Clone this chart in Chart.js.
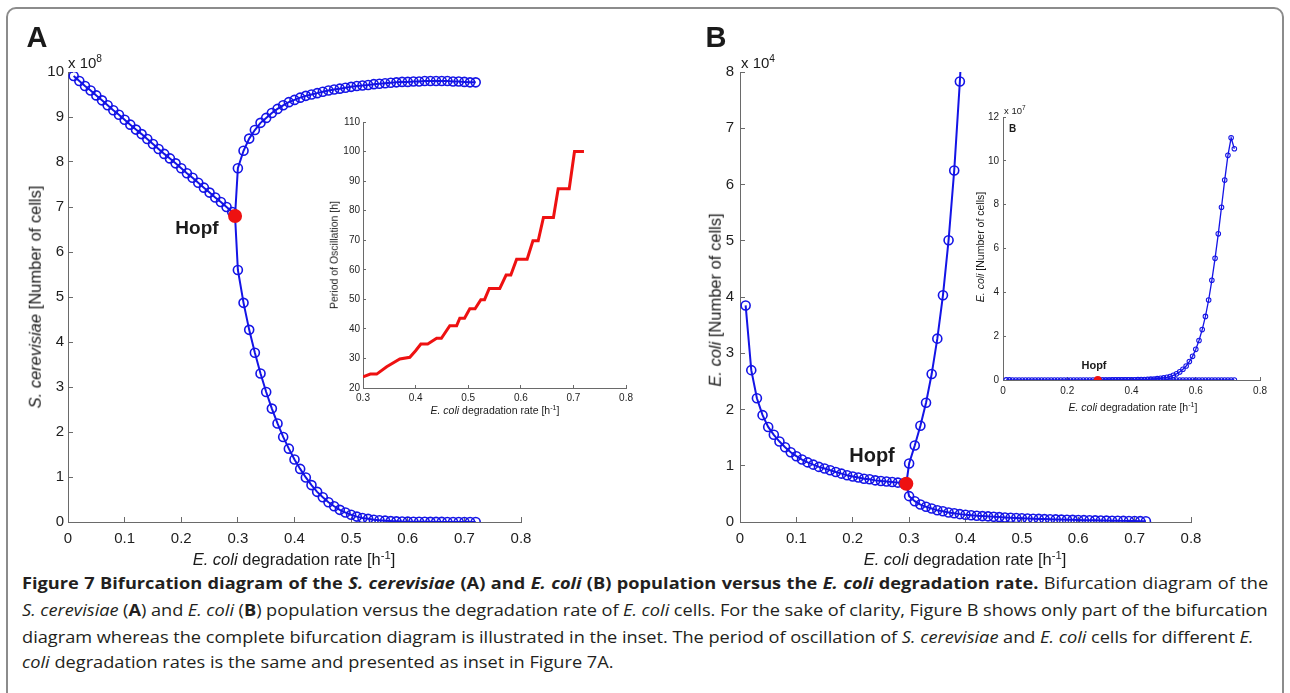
<!DOCTYPE html>
<html>
<head>
<meta charset="utf-8">
<title>Figure 7 - bifurcation diagram</title>
<script src="https://cdn.jsdelivr.net/npm/chart.js@4.4.1/dist/chart.umd.min.js"></script>
<style>
  html, body { margin: 0; padding: 0; background: #fff; overflow: hidden; }
  #fig { position: relative; width: 1290px; height: 693px; overflow: hidden;
         font-family: "Liberation Sans", Arial, sans-serif; color: #1a1a1a; }
  #frame { position: absolute; left: 6px; top: 7px; width: 1278px; height: 720px;
           border: 2px solid #8c8c8c; border-radius: 10px; box-sizing: border-box; }
  canvas { position: absolute; }
  .t { position: absolute; white-space: nowrap; transform: translate(-50%, -50%); line-height: 1; }
  .rot { transform: translate(-50%, -50%) rotate(-90deg); }
  .l { position: absolute; white-space: nowrap; line-height: 1; transform: translateY(-50%); }
  .sup { font-size: 0.68em; position: relative; top: -0.55em; }
  .cap { position: absolute; left: 22px; white-space: nowrap; font-family: "Open Sans", sans-serif;
         font-size: 16.5px; line-height: 20px; transform-origin: 0 50%; color: #231f20; }
</style>
</head>
<body>
<div id="fig">
  <div id="frame"></div>

  <canvas id="chartA" width="540" height="500" style="left:10px;top:50px"></canvas>
  <canvas id="chartAin" width="310" height="300" style="left:330px;top:110px"></canvas>
  <canvas id="chartB" width="530" height="500" style="left:690px;top:50px"></canvas>
  <canvas id="chartBin" width="305" height="300" style="left:970px;top:100px"></canvas>

  <div class="t" style="left:37px;top:37px;font-size:29px;font-weight:bold">A</div>
  <div class="t" style="left:716px;top:37px;font-size:29px;font-weight:bold">B</div>

  <div class="l" style="left:68px;top:63px;font-size:15px">x 10<span class="sup">8</span></div>
  <div class="l" style="left:741px;top:63px;font-size:15px">x 10<span class="sup">4</span></div>
  <div class="l" style="left:1004px;top:111px;font-size:9.5px">x 10<span class="sup">7</span></div>
  <div class="l" style="left:1009px;top:129px;font-size:10px;font-weight:bold">B</div>

  <div class="t" style="left:197px;top:227px;font-size:19px;font-weight:bold">Hopf</div>
  <div class="t" style="left:872px;top:455px;font-size:20px;font-weight:bold">Hopf</div>
  <div class="t" style="left:1094px;top:365px;font-size:11px;font-weight:bold">Hopf</div>

  <div class="t" style="left:294px;top:559px;font-size:16.5px"><i>E. coli</i> degradation rate [h<span class="sup">-1</span>]</div>
  <div class="t" style="left:965px;top:559px;font-size:16.5px"><i>E. coli</i> degradation rate [h<span class="sup">-1</span>]</div>
  <div class="t rot" style="left:35px;top:297px;font-size:16.5px"><i>S. cerevisiae</i> [Number of cells]</div>
  <div class="t rot" style="left:715px;top:300px;font-size:16.5px"><i>E. coli</i> [Number of cells]</div>

  <div class="t" style="left:495px;top:411px;font-size:10.5px"><i>E. coli</i> degradation rate [h<span class="sup">-1</span>]</div>
  <div class="t rot" style="left:334px;top:255px;font-size:10.5px">Period of Oscillation [h]</div>
  <div class="t" style="left:1133px;top:408px;font-size:10.5px"><i>E. coli</i> degradation rate [h<span class="sup">-1</span>]</div>
  <div class="t rot" style="left:980px;top:247px;font-size:10.5px"><i>E. coli</i> [Number of cells]</div>

  <div class="cap" data-w="1246" style="top:573px"><b>Figure 7 Bifurcation diagram of the <i>S. cerevisiae</i> (A) and <i>E. coli</i> (B) population versus the <i>E. coli</i> degradation rate.</b> Bifurcation diagram of the</div>
  <div class="cap" data-w="1246" style="top:600px"><i>S. cerevisiae</i> (<b>A</b>) and <i>E. coli</i> (<b>B</b>) population versus the degradation rate of <i>E. coli</i> cells. For the sake of clarity, Figure B shows only part of the bifurcation</div>
  <div class="cap" data-w="1232" style="top:627px">diagram whereas the complete bifurcation diagram is illustrated in the inset. The period of oscillation of <i>S. cerevisiae</i> and <i>E. coli</i> cells for different <i>E.</i></div>
  <div class="cap" id="capLast" data-w="591" style="top:652px"><i>coli</i> degradation rates is the same and presented as inset in Figure 7A.</div>
</div>

<script>
// degradation rate grid [1/h]
var rateLeft = [0.01, 0.02, 0.03, 0.04, 0.05, 0.06, 0.07, 0.08, 0.09, 0.10,
                0.11, 0.12, 0.13, 0.14, 0.15, 0.16, 0.17, 0.18, 0.19, 0.20,
                0.21, 0.22, 0.23, 0.24, 0.25, 0.26, 0.27, 0.28, 0.29];
var rateRight = [0.30, 0.31, 0.32, 0.33, 0.34, 0.35, 0.36, 0.37, 0.38, 0.39,
                 0.40, 0.41, 0.42, 0.43, 0.44, 0.45, 0.46, 0.47, 0.48, 0.49,
                 0.50, 0.51, 0.52, 0.53, 0.54, 0.55, 0.56, 0.57, 0.58, 0.59,
                 0.60, 0.61, 0.62, 0.63, 0.64, 0.65, 0.66, 0.67, 0.68, 0.69,
                 0.70, 0.71, 0.72];

// panel A: S. cerevisiae (x 10^8)
var aStable = [9.91, 9.80, 9.69, 9.59, 9.48, 9.37, 9.26, 9.15, 9.05, 8.94,
               8.83, 8.72, 8.62, 8.51, 8.40, 8.29, 8.18, 8.08, 7.97, 7.86,
               7.75, 7.65, 7.54, 7.43, 7.32, 7.21, 7.11, 7.00, 6.89];
var aUpper = [7.86, 8.25, 8.52, 8.71, 8.87, 8.98, 9.09, 9.18, 9.26, 9.33,
              9.38, 9.43, 9.47, 9.50, 9.53, 9.56, 9.59, 9.61, 9.63, 9.65,
              9.67, 9.69, 9.70, 9.71, 9.73, 9.74, 9.75, 9.76, 9.77, 9.78,
              9.78, 9.79, 9.79, 9.80, 9.80, 9.80, 9.80, 9.80, 9.79, 9.79,
              9.78, 9.77, 9.77];
var aLower = [5.60, 4.87, 4.27, 3.76, 3.30, 2.89, 2.52, 2.19, 1.89, 1.63,
              1.39, 1.18, 0.99, 0.82, 0.67, 0.55, 0.44, 0.35, 0.27, 0.21,
              0.16, 0.12, 0.09, 0.07, 0.05, 0.04, 0.03, 0.02, 0.015, 0.01,
              0.008, 0.006, 0.005, 0.004, 0.003, 0.002, 0.002, 0.001, 0.001, 0.001,
              0.001, 0.001, 0.001];
var hopfA = { x: 0.295, y: 6.8 };

// inset A: period of oscillation [h]
var periodRate = [0.300, 0.314, 0.326, 0.345, 0.370, 0.389, 0.400, 0.410, 0.423, 0.440,
                  0.449, 0.465, 0.478, 0.484, 0.493, 0.503, 0.513, 0.524, 0.531, 0.540,
                  0.560, 0.572, 0.581, 0.592, 0.612, 0.623, 0.633, 0.643, 0.662, 0.671,
                  0.692, 0.702, 0.720];
var periodHours = [23.8, 24.7, 24.7, 27.2, 29.8, 30.4, 32.6, 34.9, 34.9, 36.8,
                   36.8, 41.1, 41.1, 43.6, 43.6, 46.8, 46.8, 49.9, 49.9, 53.7,
                   53.7, 58.2, 58.2, 63.6, 63.6, 69.8, 69.8, 77.7, 77.7, 87.4,
                   87.4, 100, 100];

// panel B: E. coli (x 10^4)
var bLeft = [3.85, 2.70, 2.20, 1.90, 1.69, 1.55, 1.43, 1.33, 1.24, 1.17,
             1.11, 1.06, 1.02, 0.98, 0.95, 0.92, 0.89, 0.86, 0.83, 0.81,
             0.79, 0.77, 0.76, 0.74, 0.73, 0.72, 0.71, 0.70, 0.69];
var bUpper = [1.04, 1.36, 1.71, 2.12, 2.63, 3.26, 4.03, 5.01, 6.25, 7.83, 9.80];
var bLower = [0.46, 0.37, 0.31, 0.27, 0.24, 0.21, 0.19, 0.17, 0.155, 0.14,
              0.13, 0.12, 0.11, 0.105, 0.10, 0.093, 0.087, 0.081, 0.076, 0.071,
              0.067, 0.063, 0.059, 0.055, 0.052, 0.049, 0.046, 0.043, 0.040, 0.038,
              0.035, 0.033, 0.031, 0.029, 0.027, 0.025, 0.023, 0.021, 0.020, 0.018,
              0.017, 0.015, 0.014];
var hopfB = { x: 0.295, y: 0.68 };

// inset B: full upper branch (x 10^7)
var insetUpper = [0.001, 0.0014, 0.0017, 0.0021, 0.0026, 0.0033, 0.004, 0.005, 0.0063, 0.0078,
                  0.0098, 0.012, 0.015, 0.019, 0.024, 0.03, 0.038, 0.048, 0.06, 0.075,
                  0.095, 0.12, 0.16, 0.21, 0.28, 0.37, 0.49, 0.64, 0.84, 1.08,
                  1.40, 1.80, 2.30, 2.90, 3.65, 4.55, 5.55, 6.67, 7.88, 9.12,
                  10.25, 11.05, 10.55];
var hopfInset = { x: 0.295, y: 0 };

// tick labels
var mainXTicks = [0, 0.1, 0.2, 0.3, 0.4, 0.5, 0.6, 0.7, 0.8];
var aYTicks = [0, 1, 2, 3, 4, 5, 6, 7, 8, 9, 10];
var bYTicks = [0, 1, 2, 3, 4, 5, 6, 7, 8];
var periodXTicks = [0.3, 0.4, 0.5, 0.6, 0.7, 0.8];
var periodYTicks = [20, 30, 40, 50, 60, 70, 80, 90, 100, 110];
var insetXTicks = [0, 0.2, 0.4, 0.6, 0.8];
var insetYTicks = [0, 2, 4, 6, 8, 10, 12];

var blue = '#1414e6';
var red = '#ee1111';
var axisColor = '#6a6a6a';

Chart.defaults.font.family = '"Liberation Sans", Arial, sans-serif';

function pts(xs, ys, k) {
  k = k || 1;
  return xs.map(function(x, i) { return { x: x, y: ys[i] * k }; });
}

function axis(min, max, ticks, isX, size, fontSize, tl, pad) {
  return {
    type: 'linear', min: min, max: max,
    afterBuildTicks: function(s) { s.ticks = ticks.map(function(v) { return { value: v }; }); },
    afterFit: function(s) { if (isX) s.height = size; else s.width = size; },
    grid: { display: true, drawOnChartArea: false, drawTicks: true, tickLength: -tl, color: axisColor },
    border: { display: true, color: axisColor, width: 1 },
    ticks: {
      padding: pad, color: '#1e1e1e', font: { size: fontSize },
      maxRotation: 0, autoSkip: false,
      callback: function(v) { return String(Number(v.toFixed(2))); }
    }
  };
}

function branch(data, r, bw) {
  return {
    data: data, showLine: true, borderColor: blue, borderWidth: bw,
    pointRadius: r, pointBorderWidth: bw * 0.8, pointBorderColor: blue,
    pointBackgroundColor: 'rgba(0,0,0,0)', tension: 0
  };
}

function hopf(p, r) {
  return { data: [p], pointRadius: r, pointBackgroundColor: red, pointBorderColor: red, pointBorderWidth: 0 };
}

function draw(id, datasets, pad, scales) {
  return new Chart(document.getElementById(id), {
    type: 'scatter',
    data: { datasets: datasets },
    options: {
      responsive: false, animation: false, events: [], devicePixelRatio: 1,
      layout: { padding: pad },
      plugins: { legend: { display: false }, tooltip: { enabled: false } },
      scales: scales
    }
  });
}

// main panel A
draw('chartA', [
  hopf(hopfA, 7),
  branch(pts(rateLeft, aStable).concat([hopfA]), 4.5, 2),
  branch([hopfA].concat(pts(rateRight, aUpper)), 4.5, 2),
  branch([hopfA].concat(pts(rateRight, aLower)), 4.5, 2)
], { top: 22, right: 29, left: 0, bottom: 0 }, {
  x: axis(0, 0.8, mainXTicks, true, 28, 15, 5, 13),
  y: axis(0, 10, aYTicks, false, 58, 15, 5, 9)
});

// inset A: period
draw('chartAin', [{
  data: pts(periodRate, periodHours), showLine: true, borderColor: red,
  borderWidth: 3, pointRadius: 0, tension: 0
}], { top: 12, right: 13, left: 0, bottom: 0 }, {
  x: axis(0.3, 0.8, periodXTicks, true, 22, 10, 3, 7),
  y: axis(20, 110, periodYTicks, false, 33, 10, 3, 6)
});

// main panel B
draw('chartB', [
  hopf(hopfB, 7),
  branch(pts(rateLeft, bLeft).concat([hopfB]), 4.5, 2),
  branch([hopfB].concat(pts(rateRight.slice(0, bUpper.length), bUpper)), 4.5, 2),
  branch([hopfB].concat(pts(rateRight, bLower)), 4.5, 2)
], { top: 22, right: 29, left: 0, bottom: 0 }, {
  x: axis(0, 0.8, mainXTicks, true, 28, 15, 5, 13),
  y: axis(0, 8, bYTicks, false, 50, 15, 5, 11)
});

// inset B: complete diagram, values converted from x10^4 to x10^7
draw('chartBin', [
  hopf(hopfInset, 4),
  branch(pts(rateLeft, bLeft, 0.001).concat(pts(rateRight, bLower, 0.001)), 2.3, 1.3),
  branch(pts(rateRight, insetUpper), 2.3, 1.3)
], { top: 17, right: 11, left: 0, bottom: 0 }, {
  x: axis(0, 0.8, insetXTicks, true, 20, 10, 3, 8),
  y: axis(0, 12, insetYTicks, false, 33, 10, 3, 7)
});

// caption: one common horizontal squeeze taken from the last (unjustified) line,
// then the other lines are justified with extra word spacing
var lastCap = document.getElementById('capLast');
var squeeze = Number(lastCap.getAttribute('data-w')) / lastCap.offsetWidth;
document.querySelectorAll('.cap').forEach(function(el) {
  var target = Number(el.getAttribute('data-w')) / squeeze;
  if (el !== lastCap) {
    var gaps = (el.textContent.match(/ /g) || []).length;
    el.style.wordSpacing = ((target - el.offsetWidth) / gaps) + 'px';
  }
  el.style.transform = 'scaleX(' + squeeze + ')';
});
</script>
</body>
</html>
